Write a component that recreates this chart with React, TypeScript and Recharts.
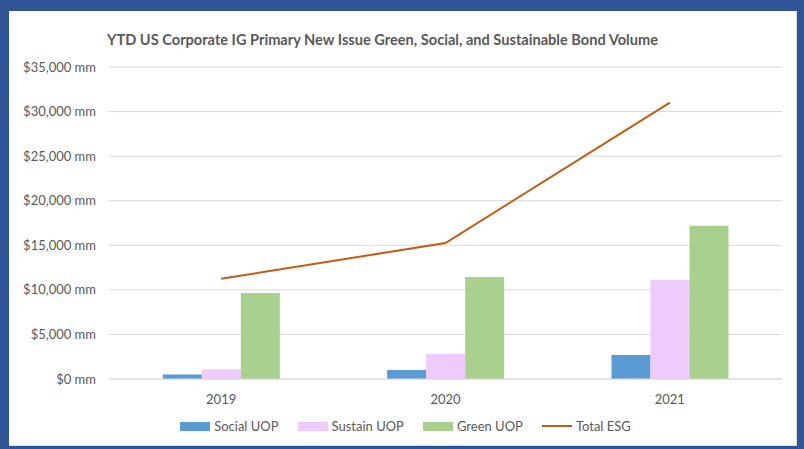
import React from 'react';
import { ComposedChart, Bar, Line, XAxis, YAxis, CartesianGrid, Legend } from 'recharts';

const years = ['2019', '2020', '2021'];
const socialUop = [500, 1000, 2700];
const sustainUop = [1100, 2800, 11100];
const greenUop = [9650, 11450, 17200];
const totalEsg = [11250, 15250, 31000];
const yTicks = [0, 5000, 10000, 15000, 20000, 25000, 30000, 35000];

const data = years.map((year, i) => ({
  year,
  social: socialUop[i],
  sustain: sustainUop[i],
  green: greenUop[i],
  total: totalEsg[i],
}));

const FONT = 'Lato, "Open Sans", sans-serif';
const GRAY = '#595959';

const fmtMm = (v: number) => `$${v.toLocaleString('en-US')} mm`;

const legendItems = [
  { label: 'Social UOP', color: '#5B9BD5', kind: 'bar' },
  { label: 'Sustain UOP', color: '#EECBFB', kind: 'bar' },
  { label: 'Green UOP', color: '#A9D18E', kind: 'bar' },
  { label: 'Total ESG', color: '#C55A11', kind: 'line' },
];

const ChartLegend = () => (
  <div style={{ display: 'flex', justifyContent: 'center', gap: 19, fontFamily: FONT, fontSize: 13, color: GRAY, paddingLeft: 20 }}>
    {legendItems.map(item => (
      <div key={item.label} style={{ display: 'flex', alignItems: 'center', gap: 4 }}>
        {item.kind === 'bar' ? (
          <span style={{ display: 'inline-block', width: 30, height: 9, background: item.color }} />
        ) : (
          <span style={{ display: 'inline-block', width: 30, height: 2, background: item.color }} />
        )}
        <span>{item.label}</span>
      </div>
    ))}
  </div>
);

export default function App() {
  return (
    <div style={{ position: 'absolute', left: 0, top: 0, width: 804, height: 449, background: '#2F5597' }}>
      <div style={{ position: 'absolute', left: 9, top: 11, width: 788, height: 435, background: '#fff', boxSizing: 'border-box', borderRight: '1px solid #d9d9d9', borderBottom: '1px solid #d9d9d9' }}>
        <div style={{ position: 'absolute', left: 98, top: 20, whiteSpace: 'nowrap', fontFamily: FONT, fontWeight: 700, fontSize: 14.6, color: GRAY }}>
          YTD US Corporate IG Primary New Issue Green, Social, and Sustainable Bond Volume
        </div>
        <ComposedChart
          width={788}
          height={435}
          data={data}
          margin={{ top: 56, right: 15, left: 0, bottom: 0 }}
          barCategoryGap="24%"
          barGap={0}
        >
          <CartesianGrid vertical={false} stroke="#D9D9D9" />
          <XAxis
            dataKey="year"
            axisLine={{ stroke: '#D9D9D9' }}
            tickLine={false}
            tick={{ fontFamily: FONT, fontSize: 13, fill: GRAY }}
            tickMargin={10}
            height={46}
          />
          <YAxis
            width={100}
            domain={[0, 35000]}
            ticks={yTicks}
            tickFormatter={fmtMm}
            axisLine={false}
            tickLine={false}
            tickSize={0}
            tickMargin={13}
            tick={{ fontFamily: FONT, fontSize: 13, fill: GRAY }}
          />
          <Bar dataKey="social" name="Social UOP" fill="#5B9BD5" isAnimationActive={false} />
          <Bar dataKey="sustain" name="Sustain UOP" fill="#EECBFB" isAnimationActive={false} />
          <Bar dataKey="green" name="Green UOP" fill="#A9D18E" isAnimationActive={false} />
          <Line dataKey="total" name="Total ESG" stroke="#C55A11" strokeWidth={2} dot={false} isAnimationActive={false} />
          <Legend content={<ChartLegend />} verticalAlign="bottom" height={21} wrapperStyle={{ bottom: 7 }} />
        </ComposedChart>
      </div>
    </div>
  );
}
